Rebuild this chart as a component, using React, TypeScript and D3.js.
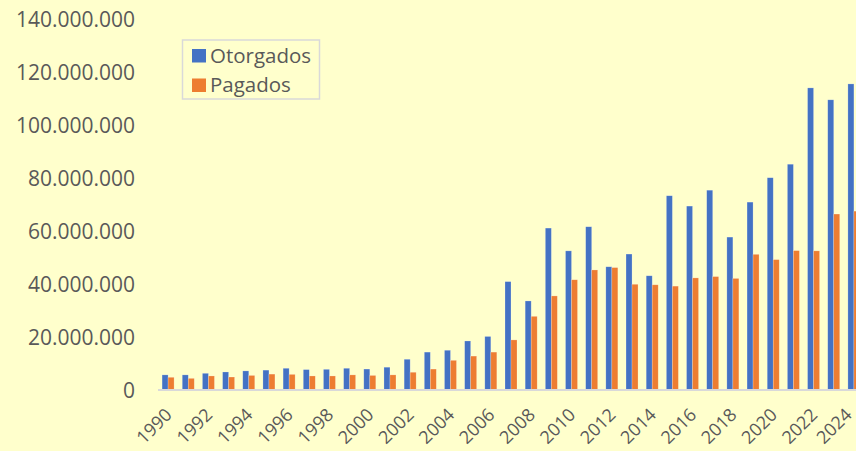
import { useEffect, useRef } from 'react';
import * as d3 from 'd3';

const years = d3.range(1990, 2025).map(String);

// millions
const otorgados = [
  5.7, 5.7, 6.3, 6.8, 7.2, 7.5, 8.2, 7.7, 7.8, 8.2, 7.9, 8.6,
  11.6, 14.3, 15.0, 18.5, 20.2, 40.9, 33.6, 61.1, 52.5, 61.6, 46.5, 51.3,
  43.1, 73.3, 69.4, 75.4, 57.7, 70.9, 80.1, 85.2, 114.0, 109.5, 115.5,
];
const pagados = [
  4.8, 4.4, 5.3, 4.9, 5.5, 6.0, 5.9, 5.3, 5.3, 5.7, 5.5, 5.7,
  6.7, 7.9, 11.2, 12.8, 14.3, 18.9, 27.8, 35.5, 41.6, 45.3, 46.2, 39.9,
  39.7, 39.2, 42.3, 42.8, 42.1, 51.2, 49.2, 52.6, 52.5, 66.4, 67.5,
];
const seriesNames = ['Otorgados', 'Pagados'];
const seriesColors = ['#4472C4', '#ED7D31'];
const yTicks = [0, 20e6, 40e6, 60e6, 80e6, 100e6, 120e6, 140e6];

const width = 856;
const height = 451;
const font = '"Open Sans", "Liberation Sans", sans-serif';
const textColor = '#595959';

const App = () => {
  const ref = useRef<SVGSVGElement>(null);

  useEffect(() => {
    const svg = d3.select(ref.current);
    svg.selectAll('*').remove();

    svg.append('rect')
      .attr('width', width)
      .attr('height', height)
      .attr('fill', '#FFFFCC');

    const x = d3.scaleBand()
      .domain(years)
      .range([158, 864])
      .paddingInner(0.405)
      .paddingOuter(0.2025);

    const x1 = d3.scaleBand()
      .domain(seriesNames)
      .range([0, x.bandwidth()]);

    const y = d3.scaleLinear()
      .domain([0, 140e6])
      .range([390, 19]);

    const fmt = d3.formatLocale({ decimal: ',', thousands: '.', grouping: [3], currency: ['', ''] }).format(',.0f');

    // y labels
    svg.append('g')
      .selectAll('text')
      .data(yTicks)
      .enter()
      .append('text')
      .attr('x', 135)
      .attr('y', d => y(d) + 7.5)
      .attr('text-anchor', 'end')
      .attr('font-family', font)
      .attr('font-size', 21)
      .attr('fill', textColor)
      .text(d => fmt(d));

    const rows = years.map((yr, i) => ({ year: yr, values: [otorgados[i] * 1e6, pagados[i] * 1e6] }));

    const groups = svg.append('g')
      .selectAll('g')
      .data(rows)
      .enter()
      .append('g')
      .attr('transform', d => `translate(${x(d.year)},0)`);

    groups.selectAll('rect')
      .data(d => d.values.map((v, k) => ({ v, k })))
      .enter()
      .append('rect')
      .attr('x', d => x1(seriesNames[d.k]) as number)
      .attr('width', x1.bandwidth())
      .attr('y', d => y(d.v))
      .attr('height', d => y(0) - y(d.v))
      .attr('fill', d => seriesColors[d.k])
      .attr('stroke', 'rgba(255,255,255,0.35)')
      .attr('stroke-width', 0.6);

    // category axis line
    svg.append('line')
      .attr('x1', 158)
      .attr('x2', width)
      .attr('y1', y(0))
      .attr('y2', y(0))
      .attr('stroke', '#D9D9D9')
      .attr('stroke-width', 2);

    // x labels, every other year (last one kept inside the frame)
    svg.append('g')
      .selectAll('text')
      .data(years.filter((_, i) => i % 2 === 0))
      .enter()
      .append('text')
      .attr('transform', d => {
        const ax = Math.min((x(d) as number) + x.bandwidth() / 2 + 5, 853);
        return `translate(${ax},416) rotate(-45)`;
      })
      .attr('text-anchor', 'end')
      .attr('font-family', font)
      .attr('font-size', 18)
      .attr('fill', textColor)
      .text(d => d);

    // legend
    const legend = svg.append('g');
    legend.append('rect')
      .attr('x', 182.5)
      .attr('y', 40)
      .attr('width', 137)
      .attr('height', 59)
      .attr('fill', '#FFFFCC')
      .attr('stroke', '#D9D9D9')
      .attr('stroke-width', 1.5);

    const items = legend.selectAll('g.item')
      .data(seriesNames)
      .enter()
      .append('g')
      .attr('class', 'item')
      .attr('transform', (d, i) => `translate(0,${i * 29.5})`);

    items.append('rect')
      .attr('x', 192)
      .attr('y', 49)
      .attr('width', 14)
      .attr('height', 13.5)
      .attr('fill', (d, i) => seriesColors[i]);

    items.append('text')
      .attr('x', 210)
      .attr('y', 62.5)
      .attr('font-family', font)
      .attr('font-size', 20.5)
      .attr('fill', textColor)
      .text(d => d);
  }, []);

  return (
    <div style={{ position: 'absolute', left: 0, top: 0 }}>
      <svg ref={ref} width={width} height={height} style={{ display: 'block' }}></svg>
    </div>
  );
};

export default App;
